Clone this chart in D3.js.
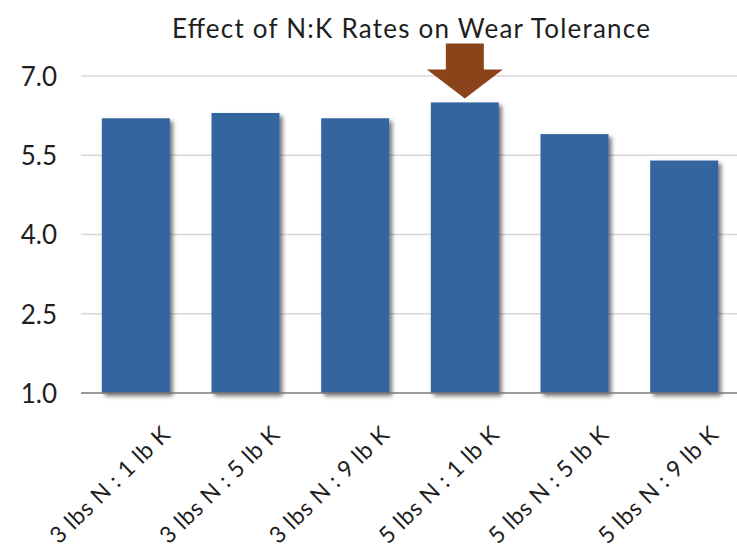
<!DOCTYPE html>
<html>
<head>
<meta charset="utf-8">
<script src="https://cdn.jsdelivr.net/npm/d3@7"></script>
<style>
  html, body { margin: 0; padding: 0; background: #fff; }
  svg { display: block; }
  text { font-family: Lato, "Open Sans", sans-serif; fill: #1e1e1e; }
</style>
</head>
<body>
<script>
// Wear tolerance rating for each N:K fertiliser rate
const categories = [
  "3 lbs N : 1 lb K",
  "3 lbs N : 5 lb K",
  "3 lbs N : 9 lb K",
  "5 lbs N : 1 lb K",
  "5 lbs N : 5 lb K",
  "5 lbs N : 9 lb K"
];
const wearTolerance = [6.2, 6.3, 6.2, 6.5, 5.9, 5.4];
const yTicks = [1.0, 2.5, 4.0, 5.5, 7.0];
const highlighted = "5 lbs N : 1 lb K";
const title = "Effect of N:K Rates on Wear Tolerance";

const W = 737, H = 552;
const plotLeft = 81, plotRight = 739, plotTop = 76, plotBottom = 393;

const svg = d3.select("body").append("svg").attr("width", W).attr("height", H);

const defs = svg.append("defs");
const f = defs.append("filter").attr("id", "shadow")
  .attr("x", "-20%").attr("y", "-20%").attr("width", "140%").attr("height", "140%");
f.append("feDropShadow").attr("dx", 3).attr("dy", 3).attr("stdDeviation", 2)
  .attr("flood-color", "#000").attr("flood-opacity", 0.55);

const x = d3.scaleBand().domain(categories).range([plotLeft, plotRight])
  .paddingInner(0.38).paddingOuter(0.19);
const y = d3.scaleLinear().domain([1, 7]).range([plotBottom, plotTop]);

// horizontal gridlines
svg.append("g").selectAll("line").data(yTicks.filter(t => t !== 1)).join("line")
  .attr("x1", plotLeft).attr("x2", W)
  .attr("y1", d => y(d)).attr("y2", d => y(d))
  .attr("stroke", "#d8d8d8").attr("stroke-width", 1.5);

// y axis labels
const yAxis = d3.axisLeft(y).tickValues(yTicks).tickFormat(d3.format(".1f")).tickSize(0).tickPadding(0);
const gy = svg.append("g").attr("transform", "translate(57,0)").call(yAxis);
gy.select(".domain").remove();
gy.selectAll("text").style("font-size", "26px").style("font-family", "Lato, sans-serif")
  .attr("fill", "#1e1e1e").attr("dy", "0.36em");

// bars
svg.append("g").selectAll("rect").data(categories).join("rect")
  .attr("x", d => x(d))
  .attr("width", x.bandwidth())
  .attr("y", (d, i) => y(wearTolerance[i]))
  .attr("height", (d, i) => y(1) - y(wearTolerance[i]))
  .attr("fill", "#36659f")
  .attr("filter", "url(#shadow)");

// baseline
svg.append("line").attr("x1", plotLeft).attr("x2", W)
  .attr("y1", y(1)).attr("y2", y(1))
  .attr("stroke", "#7a7a7a").attr("stroke-width", 1.5);

// category labels
svg.append("g").selectAll("text").data(categories).join("text")
  .attr("text-anchor", "end")
  .attr("transform", d => `translate(${x(d) + x.bandwidth() / 2 + 36},${y(1) + 43}) rotate(-44)`)
  .style("font-size", "23px")
  .style("letter-spacing", "0.6px")
  .text(d => d);

// title
svg.append("text").attr("x", 411).attr("y", 38).attr("text-anchor", "middle")
  .attr("textLength", 478).attr("lengthAdjust", "spacing")
  .style("font-size", "26px").text(title);

// arrow marking the highlighted rate
const hi = categories.indexOf(highlighted);
const ax = x(highlighted) + x.bandwidth() / 2;
const tipY = y(wearTolerance[hi]) - 4;
const arrow = d3.path();
arrow.moveTo(ax - 19, tipY - 55);
arrow.lineTo(ax + 19, tipY - 55);
arrow.lineTo(ax + 19, tipY - 29);
arrow.lineTo(ax + 38, tipY - 29);
arrow.lineTo(ax, tipY);
arrow.lineTo(ax - 38, tipY - 29);
arrow.lineTo(ax - 19, tipY - 29);
arrow.closePath();
svg.append("path").attr("d", arrow.toString()).attr("fill", "#8b4419");
</script>
</body>
</html>
